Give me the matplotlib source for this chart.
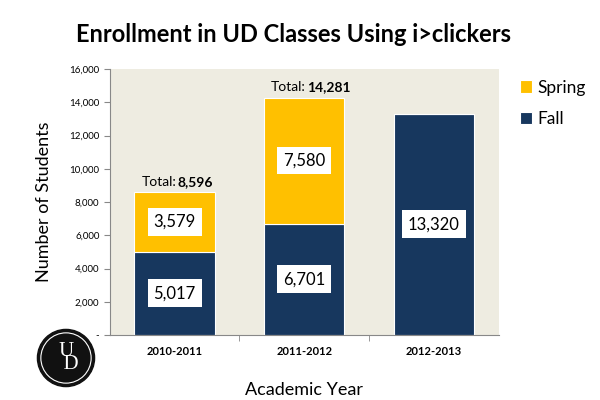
import matplotlib
matplotlib.use("Agg")
import matplotlib.pyplot as plt
from matplotlib.patches import Circle
from matplotlib.ticker import FuncFormatter

years = ["2010-2011", "2011-2012", "2012-2013"]
fall = [5017, 6701, 13320]
spring = [3579, 7580, 0]
totals = [8596, 14281, None]

navy = "#17375E"
gold = "#FFC000"
bg = "#EEECE1"
plt.rcParams["font.family"] = ["Lato", "DejaVu Sans"]

fig = plt.figure(figsize=(6, 4), dpi=100)
ax = fig.add_axes([0.183, 0.1625, 0.648, 0.665])
ax.set_facecolor(bg)

x = range(len(years))
w = 0.62
ax.bar(x, fall, w, color=navy, edgecolor="white", linewidth=0.8, label="Fall", zorder=2)
ax.bar(x, spring, w, bottom=fall, color=gold, edgecolor="white", linewidth=0.8, label="Spring", zorder=2)

box = dict(boxstyle="square,pad=0.35", fc="white", ec="none")
for i in x:
    ax.text(i, fall[i] / 2, f"{fall[i]:,}", ha="center", va="center", fontsize=12, bbox=box, zorder=3)
    if spring[i]:
        ax.text(i, fall[i] + spring[i] / 2, f"{spring[i]:,}", ha="center", va="center", fontsize=12, bbox=box, zorder=3)
    if totals[i]:
        ax.annotate("Total:", (i + 0.02, totals[i]), xytext=(-0.5, 3), textcoords="offset points",
                    ha="right", va="bottom", fontsize=10)
        ax.annotate(f"{totals[i]:,}", (i + 0.02, totals[i]), xytext=(0.5, 3), textcoords="offset points",
                    ha="left", va="bottom", fontsize=10, fontweight="bold")

ax.set_xlim(-0.5, 2.5)
ax.set_ylim(0, 16000)
ax.set_yticks(range(0, 16001, 2000))
ax.yaxis.set_major_formatter(FuncFormatter(lambda v, p: "-" if v == 0 else f"{int(v):,}"))
ax.set_xticks(list(x))
ax.set_xticklabels(years, fontsize=8, fontweight="bold")
ax.set_xticks([0.5, 1.5], minor=True)
ax.tick_params(axis="x", which="major", length=0, pad=8)
ax.tick_params(axis="x", which="minor", length=4, color="#888888")
ax.tick_params(axis="y", labelsize=7, length=4, color="#888888")
for s in ["top", "right"]:
    ax.spines[s].set_visible(False)
for s in ["left", "bottom"]:
    ax.spines[s].set_color("#888888")

ax.set_ylabel("Number of Students", fontsize=13, labelpad=12)
ax.set_xlabel("Academic Year", fontsize=13, labelpad=18)
fig.text(0.49, 0.915, "Enrollment in UD Classes Using i>clickers", ha="center", va="center",
         fontsize=17, fontweight="bold")

handles, labels = ax.get_legend_handles_labels()
fig.legend(handles[::-1], labels[::-1], loc="upper left", bbox_to_anchor=(0.84, 0.84),
           frameon=False, fontsize=12.5, handlelength=0.7, handleheight=0.7,
           handletextpad=0.3, labelspacing=0.9)

# UD logo
lax = fig.add_axes([0.06, 0.03, 0.1, 0.15])
lax.set_aspect("equal")
lax.axis("off")
lax.add_patch(Circle((0, 0), 1, color="#111111"))
lax.add_patch(Circle((0, 0), 0.88, fill=False, ec="white", lw=0.8))
lax.text(0, 0, "U\n  D", color="white", fontsize=15, ha="center", va="center",
         linespacing=0.55, family="Liberation Serif")
lax.set_xlim(-1.05, 1.05)
lax.set_ylim(-1.05, 1.05)

fig.savefig("out.png", dpi=100)
